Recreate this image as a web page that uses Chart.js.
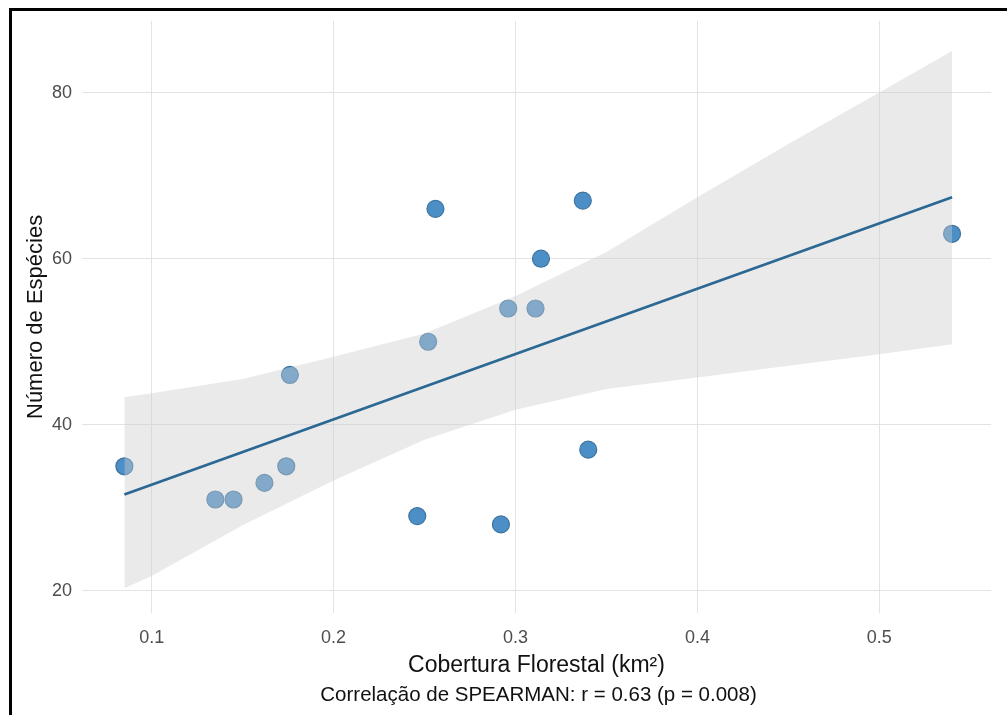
<!DOCTYPE html>
<html>
<head>
<meta charset="utf-8">
<script src="https://cdn.jsdelivr.net/npm/chart.js@4"></script>
<style>
  html, body { margin: 0; padding: 0; background: #ffffff; }
  #wrap { position: relative; width: 1007px; height: 715px; overflow: hidden; background: #fff; }
  #frame { position: absolute; left: 9px; top: 8px; right: -10px; bottom: -10px;
           border-top: 3px solid #000; border-left: 3px solid #000; pointer-events: none; }
  canvas { display: block; }
</style>
</head>
<body>
<div id="wrap">
  <canvas id="c" width="1007" height="715"></canvas>
  <div id="frame"></div>
</div>
<script>
// ---- data ----
const coverX = [0.085, 0.135, 0.145, 0.162, 0.174, 0.176, 0.246, 0.252, 0.256, 0.292, 0.296, 0.311, 0.314, 0.337, 0.340, 0.540];
const speciesY = [35, 31, 31, 33, 35, 46, 29, 50, 66, 28, 54, 54, 60, 67, 37, 63];

const fitX = [0.085, 0.540];
const fitY = [31.6, 67.4];

const bandX = [0.085, 0.10, 0.15, 0.20, 0.25, 0.30, 0.35, 0.40, 0.45, 0.50, 0.540];
const bandLow = [20.3, 21.8, 27.9, 33.3, 38.2, 41.8, 44.3, 45.7, 47.1, 48.5, 49.7];
const bandHigh = [43.3, 43.8, 45.5, 48.2, 51.0, 55.5, 60.8, 67.4, 73.8, 80.0, 85.0];

const xTicks = [0.1, 0.2, 0.3, 0.4, 0.5];
const yTicks = [20, 40, 60, 80];

const xTitle = 'Cobertura Florestal (km²)';
const yTitle = 'Número de Espécies';
const captionText = 'Correlação de SPEARMAN: r = 0.63 (p = 0.008)';

// ---- chart ----
const FONT = '"Liberation Sans", Arial, Helvetica, sans-serif';
const pts = (xs, ys) => xs.map((x, i) => ({ x: x, y: ys[i] }));

const captionPlugin = {
  id: 'caption',
  afterDraw(chart) {
    const ctx = chart.ctx;
    const a = chart.chartArea;
    ctx.save();
    ctx.font = '20.5px ' + FONT;
    ctx.fillStyle = '#111111';
    ctx.textAlign = 'center';
    ctx.textBaseline = 'middle';
    ctx.fillText(captionText, (a.left + a.right) / 2 + 2, 695);
    ctx.restore();
  }
};

new Chart(document.getElementById('c'), {
  type: 'line',
  data: {
    datasets: [
      {
        label: 'fit',
        data: pts(fitX, fitY),
        borderColor: '#2b6893',
        borderWidth: 2.8,
        pointRadius: 0,
        fill: false
      },
      {
        label: 'band high',
        data: pts(bandX, bandHigh),
        borderWidth: 0,
        borderColor: 'rgba(0,0,0,0)',
        pointRadius: 0,
        tension: 0,
        fill: '+1',
        backgroundColor: 'rgba(205,205,205,0.42)'
      },
      {
        label: 'band low',
        data: pts(bandX, bandLow),
        borderWidth: 0,
        borderColor: 'rgba(0,0,0,0)',
        pointRadius: 0,
        tension: 0,
        fill: false
      },
      {
        label: 'points',
        data: pts(coverX, speciesY),
        showLine: false,
        pointRadius: 8.5,
        pointBackgroundColor: '#4c8fc6',
        pointBorderColor: '#3d74a0',
        pointBorderWidth: 1.2,
        fill: false
      }
    ]
  },
  options: {
    responsive: false,
    animation: false,
    devicePixelRatio: 1,
    layout: { padding: { top: 17, right: 16, bottom: 0, left: 0 } },
    plugins: {
      legend: { display: false },
      tooltip: { enabled: false }
    },
    scales: {
      x: {
        type: 'linear',
        min: 0.0617,
        max: 0.5614,
        afterBuildTicks: s => { s.ticks = xTicks.map(v => ({ value: v })); },
        afterFit: s => { s.height = 102; },
        grid: { color: '#e3e3e3', lineWidth: 1, drawTicks: false },
        border: { display: false },
        ticks: {
          padding: 14,
          color: '#4d4d4d',
          font: { family: FONT, size: 18 },
          callback: v => Number(v).toFixed(1)
        },
        title: {
          display: true,
          text: xTitle,
          color: '#111111',
          font: { family: FONT, size: 23 },
          padding: { top: 0, bottom: 36 }
        }
      },
      y: {
        type: 'linear',
        min: 17.33,
        max: 88.65,
        afterBuildTicks: s => { s.ticks = yTicks.map(v => ({ value: v })); },
        afterFit: s => { s.width = 82; },
        grid: { color: '#e3e3e3', lineWidth: 1, drawTicks: false },
        border: { display: false },
        ticks: {
          padding: 10,
          color: '#4d4d4d',
          font: { family: FONT, size: 18 },
          callback: v => String(v)
        },
        title: {
          display: true,
          text: yTitle,
          color: '#111111',
          font: { family: FONT, size: 22 },
          padding: { top: 23, bottom: 0 }
        }
      }
    }
  },
  plugins: [captionPlugin]
});
</script>
</body>
</html>
